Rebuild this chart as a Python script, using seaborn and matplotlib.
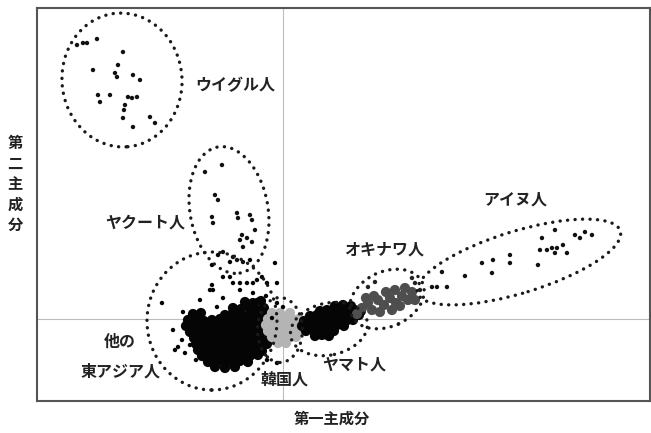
import matplotlib
matplotlib.use("Agg")
import matplotlib.pyplot as plt
from matplotlib.patches import Ellipse
import pandas as pd
import seaborn as sns

# PCA scores (arbitrary units)
uyghur_x = [-206, -200, -196, -186, -160, -190, -165, -168, -166, -150, -143, -185,
            -173, -183, -155, -151, -146, -158, -160, -150, -133, -128, -159]
uyghur_y = [274, 276, 276, 280, 267, 249, 254, 246, 242, 244, 239, 224,
            224, 217, 222, 221, 222, 214, 201, 192, 202, 196, 209]

yakut_x = [-61, -78, -68, -65, -71, -70, -46, -45, -33, -31, -28, -41, -43, -36, -31, -40, -60, -50, -46, -40]
yakut_y = [154, 147, 124, 119, 102, 96, 106, 101, 104, 99, 89, 84, 79, 81, 77, 72, 67, 62, 59, 57]

# sparse part of the other East Asian group
eastasia_x = [-71, -60, -71, -73, -60, -50, -43, -36, -30, -43, -30, -21, -16, -8, 0, -6, -121, -100,
              -110, -108, -105, -101, -33, -53, -36, -25, -66, -16, -6, -65, -53, -70, -26, -6, -26,
              -98, -83, -17, -11, -87, -93]
eastasia_y = [54, 42, 34, 29, 21, 36, 36, 36, 36, 29, 26, 42, 36, 56, 12, 16, 16, 7,
              -11, -31, -28, -21, 59, 57, 12, 7, 12, -41, -44, 64, 42, 29, 39, 36, 19,
              -34, 19, 23, 1, -41, -26]

# dense core of the other East Asian group
core_x = [-38, -30, -22,
          -50, -42, -34, -26, -19,
          -90, -82, -58, -50, -42, -34, -26, -18,
          -95, -87, -79, -71, -63, -55, -47, -39, -31, -23, -16,
          -97, -89, -81, -73, -65, -57, -49, -41, -33, -25, -17,
          -93, -85, -77, -69, -61, -53, -45, -37, -29, -21, -15,
          -89, -81, -73, -65, -57, -49, -41, -33, -25, -17,
          -87, -79, -71, -63, -55, -47, -39, -31, -23, -16,
          -85, -77, -69, -61, -53, -45, -37, -29, -21,
          -81, -73, -65, -57, -49, -41, -33, -25,
          -75, -67, -59, -51, -43, -35,
          -68, -58, -48]
core_y = [17, 16, 18,
          11, 10, 12, 9, 11,
          5, 6, 4, 6, 5, 4, 6, 3,
          -1, 0, -2, -1, 0, -2, -1, 0, -2, -1, 0,
          -7, -6, -8, -7, -6, -8, -7, -6, -8, -7, -6,
          -13, -12, -14, -13, -12, -14, -13, -12, -14, -13, -12,
          -19, -18, -20, -19, -18, -20, -19, -18, -20, -19,
          -25, -24, -26, -25, -24, -26, -25, -24, -26, -25,
          -31, -30, -32, -31, -30, -32, -31, -30, -32,
          -37, -36, -38, -37, -36, -38, -37, -36,
          -43, -42, -44, -43, -42, -43,
          -48, -49, -48]

korean_x = [-11, -3, 7, -15, -7, 1, 9, 16, -17, -9, -1, 7, 15, 21, -15, -7, 1, 9, 17, -11, -3, 5, 13, -5, 3]
korean_y = [6, 6, 6, 0, 0, 0, 0, 0, -6, -6, -6, -6, -6, -6, -12, -12, -12, -12, -12, -18, -18, -18, -18, -24, -24]

yamato_x = [52, 60, 68,
            37, 44, 51, 58, 65, 72, 78,
            27, 34, 41, 48, 55, 62, 69, 76,
            21, 28, 35, 42, 49, 56, 63, 70,
            19, 26, 33, 40, 47, 54, 61,
            23, 30, 37, 44, 51,
            32, 39, 46]
yamato_y = [13, 14, 13,
            8, 9, 8, 9, 8, 9, 8,
            3, 4, 3, 4, 3, 4, 3, 4,
            -2, -1, -2, -1, -2, -1, -2, -1,
            -7, -6, -7, -6, -7, -6, -7,
            -12, -11, -12, -11, -12,
            -17, -16, -17]

okinawa_x = [79, 85, 89, 95, 101, 107, 113, 119, 125, 129, 103, 91, 83, 112, 117, 97, 74, 132, 122, 109]
okinawa_y = [11, 16, 9, 19, 14, 21, 16, 23, 19, 27, 27, 23, 21, 29, 13, 7, 5, 19, 31, 9]
okinawa_sparse_x = [129, 132, 137, 92, 85]
okinawa_sparse_y = [41, 36, 29, 37, 32]

ainu_x = [159, 182, 199, 210, 209, 227, 227, 255, 257, 264, 269, 274, 280, 284, 272, 259, 272,
          292, 297, 302, 309, 149, 154, 164]
ainu_y = [47, 43, 56, 59, 46, 64, 56, 54, 69, 69, 71, 71, 74, 66, 66, 81, 89,
          84, 81, 87, 84, 32, 32, 32]

labels = ["ウイグル人", "ヤクート人", "他の", "東アジア人", "韓国人", "ヤマト人", "オキナワ人", "アイヌ人"]
label_x = [-48, -138, -163, -162, 2, 71, 101, 232]
label_y = [234, 96, -23, -53, -61, -46, 69, 119]

sparse = pd.concat([
    pd.DataFrame({"pc1": uyghur_x, "pc2": uyghur_y, "group": "uyghur"}),
    pd.DataFrame({"pc1": yakut_x, "pc2": yakut_y, "group": "yakut"}),
    pd.DataFrame({"pc1": eastasia_x, "pc2": eastasia_y, "group": "eastasia"}),
    pd.DataFrame({"pc1": okinawa_sparse_x, "pc2": okinawa_sparse_y, "group": "okinawa_s"}),
    pd.DataFrame({"pc1": ainu_x, "pc2": ainu_y, "group": "ainu"}),
])
dense = pd.concat([
    pd.DataFrame({"pc1": core_x, "pc2": core_y, "group": "eastasia"}),
    pd.DataFrame({"pc1": korean_x, "pc2": korean_y, "group": "korean"}),
    pd.DataFrame({"pc1": yamato_x, "pc2": yamato_y, "group": "yamato"}),
    pd.DataFrame({"pc1": okinawa_x, "pc2": okinawa_y, "group": "okinawa"}),
])

palette = {"uyghur": "#111111", "yakut": "#111111", "eastasia": "#050505",
           "okinawa_s": "#222222", "ainu": "#111111",
           "korean": "#b4b4b4", "yamato": "#050505", "okinawa": "#4e4e4e"}

sns.set_style("white")
plt.rcParams["font.family"] = ["Noto Sans CJK JP", "DejaVu Sans"]

fig = plt.figure(figsize=(6.51, 4.33), dpi=100)
ax = fig.add_axes([0.0568, 0.0739, 0.9416, 0.9076])

ax.axvline(0, color="#bdbdbd", lw=0.8, zorder=0)
ax.axhline(0, color="#bdbdbd", lw=0.8, zorder=0)

sns.scatterplot(data=dense, x="pc1", y="pc2", hue="group", palette=palette,
                s=54, linewidth=0, alpha=1.0, legend=False, ax=ax)
sns.scatterplot(data=sparse, x="pc1", y="pc2", hue="group", palette=palette,
                s=10, linewidth=0, legend=False, ax=ax)

# dotted group outlines: (center, width, height, angle)
rings = [((-161, 239), 120, 134, 5),
         ((-54, 109), 78, 128, 10),
         ((-71, -2), 130, 138, 0),
         ((-3, -11), 45, 65, 0),
         ((46, -10), 78, 52, 12),
         ((104, 20), 78, 55, 25),
         ((236, 57), 212, 62, 17)]
for c, w, h, a in rings:
    ax.add_patch(Ellipse(c, w, h, angle=a, fill=False, ec="#1a1a1a", lw=2.4,
                         ls=(0, (0.05, 2.2)), capstyle="round"))

for t, x, y in zip(labels, label_x, label_y):
    ax.text(x, y, t, fontsize=11.5, fontweight="bold", color="#222222",
            ha="center", va="center")

ax.set_xlim(-246, 367)
ax.set_ylim(-82, 311)
ax.set_xticks([])
ax.set_yticks([])
ax.set_xlabel("")
ax.set_ylabel("")
for sp in ax.spines.values():
    sp.set_color("#555555")
    sp.set_linewidth(1.5)

fig.text(332 / 651, 1 - 419 / 433, "第一主成分", fontsize=11, fontweight="bold",
         color="#222222", ha="center", va="center")
fig.text(15 / 651, 1 - 184 / 433, "第\n二\n主\n成\n分", fontsize=11, fontweight="bold",
         color="#222222", ha="center", va="center", linespacing=1.35)

fig.savefig("out.png", dpi=100)
